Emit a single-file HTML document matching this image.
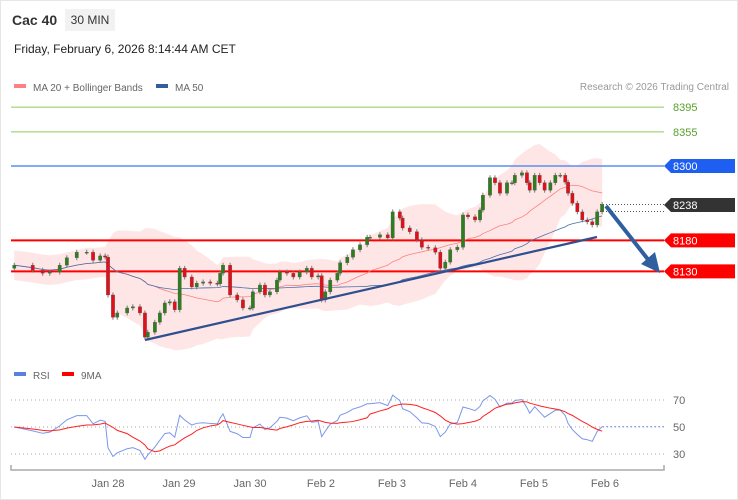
<!DOCTYPE html>
<html><head><meta charset="utf-8">
<style>
body{margin:0;background:#fff;font-family:"Liberation Sans",sans-serif;}
#card{position:relative;width:736px;height:498px;border:1px solid #e6e6e6;overflow:hidden;}
.t{position:absolute;white-space:nowrap;}
</style></head><body>
<div id="card">
<div class="t" style="left:11px;top:11px;font-size:14px;font-weight:bold;color:#333">Cac 40</div>
<div class="t" style="left:64px;top:8px;width:50px;height:22px;line-height:22px;background:#f2f2f2;font-size:12px;color:#333;text-align:center">30 MIN</div>
<div class="t" style="left:13px;top:41px;font-size:12px;color:#222">Friday, February 6, 2026 8:14:44 AM CET</div>
<svg id="svg" width="738" height="500" style="position:absolute;left:-1px;top:-1px"></svg>
</div>
<script>
const times=[-1.32,-1.06,-0.92,-0.82,-0.68,-0.58,-0.44,-0.30,-0.21,-0.11,-0.04,
0,0.07,0.13,0.27,0.35,0.45,0.52,0.56,0.66,0.73,0.80,0.87,0.94,
1.01,1.08,1.18,1.25,1.34,1.44,1.54,1.58,1.62,1.72,1.82,1.90,2.00,2.04,2.14,2.21,2.28,2.38,2.42,2.52,2.61,2.70,2.80,2.87,2.96,3.01,3.06,3.13,3.23,3.27,3.37,3.45,3.55,3.65,
3.69,3.83,3.94,4.01,4.11,4.15,4.25,4.35,4.42,4.51,4.61,4.68,4.75,4.82,4.92,5.00,5.07,5.17,5.24,5.28,5.38,5.45,5.52,5.62,5.69,5.73,5.83,5.90,5.94,6.01,6.08,6.15,6.23,6.30,6.37,6.44,6.48,6.54,6.61,6.68,6.75,6.82,6.89,6.96];
const closes=[8140,8132,8127,8129,8140,8152,8161,8161,8148,8155,8153,
8092,8056,8063,8071,8073,8063,8024,8032,8048,8063,8079,8081,8068,
8135,8121,8105,8111,8113,8111,8110,8127,8140,8092,8084,8071,8071,8097,8108,8092,8097,8116,8129,8127,8121,8129,8135,8121,8123,8084,8097,8116,8127,8144,8153,8165,8173,8185,
8185,8189,8184,8226,8216,8200,8194,8181,8169,8168,8161,8135,8145,8165,8169,8221,8218,8213,8229,8253,8281,8273,8256,8273,8273,8285,8289,8273,8261,8285,8273,8261,8273,8285,8285,8274,8256,8240,8226,8213,8210,8205,8226,8238];
const firstOpen=8135;
const dayLabels=["Jan 28","Jan 29","Jan 30","Feb 2","Feb 3","Feb 4","Feb 5","Feb 6"];
const dayIdx=[0,1,2,3,4,5,6,7];
const levels=[8395,8355,8300,8238,8180,8130];
const rsiTicks=[70,50,30];
const NS="http://www.w3.org/2000/svg",svg=document.getElementById('svg');
function el(t,a,txt){const e=document.createElementNS(NS,t);for(const k in a)e.setAttribute(k,a[k]);if(txt!==undefined)e.textContent=txt;svg.appendChild(e);return e;}
const y=p=>166-(p-8300)*0.62;
const N=closes.length;
const tx=t=>108+t*71;
const x=i=>tx(times[i]);
const ry=v=>427-(v-50)*1.35;
function sma(arr,n){return arr.map((_,i)=>{const s=arr.slice(Math.max(0,i-n+1),i+1);return s.reduce((a,b)=>a+b,0)/s.length;});}
const ma20=sma(closes,20),ma50=sma(closes,50);
const sd=closes.map((_,i)=>{const s=closes.slice(Math.max(0,i-19),i+1);const m=ma20[i];return Math.sqrt(s.reduce((a,b)=>a+(b-m)*(b-m),0)/s.length);});
const bandW=sd.map(v=>Math.max(2*v,24));
let d='M'+closes.map((_,i)=>x(i)+','+y(ma20[i]+bandW[i])).join('L')+'L'+closes.map((_,i)=>x(N-1-i)+','+y(ma20[N-1-i]-bandW[N-1-i])).join('L')+'Z';
let bb=el('path',{d,fill:'#ffdede','fill-opacity':0.75,stroke:'none'});


const lvlStyle={8395:['#8fcb5c',1],8355:['#8fcb5c',1],8300:['#5b8ef0',1.5],8180:['#ff0000',2],8130:['#ff0000',2]};
for(const L of levels){
 if(L===8238){for(const yy of [y(L),y(L)+7]){let l=el('line',{x1:600,x2:664,y1:yy,y2:yy,stroke:'#555','stroke-dasharray':'1,2'});}continue;}
 const s=lvlStyle[L];
 let l=el('line',{x1:11,x2:664,y1:y(L),y2:y(L),stroke:s[0],'stroke-width':s[1]});
 
 
}
let m2=el('path',{d:'M'+ma20.map((v,i)=>x(i)+','+y(v)).join('L'),fill:'none',stroke:'#ff8080','stroke-width':0.8});


let m5=el('path',{d:'M'+ma50.map((v,i)=>x(i)+','+y(v)).join('L'),fill:'none',stroke:'#4a6fa8','stroke-width':0.8});


for(let i=0;i<N;i++){
 const o=i?closes[i-1]:firstOpen,c=closes[i];
 const hi=Math.max(o,c)+4,lo=Math.min(o,c)-4;
 let w=el('line',{x1:x(i),x2:x(i),y1:y(hi),y2:y(lo),stroke:'#777','stroke-width':1});
 
 
 const top=y(Math.max(o,c)),h=Math.max(1,Math.abs(y(o)-y(c)));
 let r=el('rect',{x:x(i)-1.7,y:top,width:3.4,height:h,fill:c>=o?'#2e7d1f':'#e0101a',stroke:'#555','stroke-width':0.3});
 
 
}
let tl=el('line',{x1:145,y1:340,x2:597,y2:237,stroke:'#2f4f8f','stroke-width':2.2});


let ar=el('line',{x1:606,y1:206,x2:650,y2:262,stroke:'#2f5f9f','stroke-width':4});


let ah=el('polygon',{points:'660,273 641,264 655,252',fill:'#2f5f9f'});


const tagCol={8395:null,8355:null,8300:'#1e5ef0',8238:'#333333',8180:'#ff0000',8130:'#ff0000'};
for(const L of levels){
 const yy=y(L)+(L===8238?0.5:0);
 if(!tagCol[L]){let t=el('text',{x:673,y:yy+4,'font-size':11,fill:'#5aa02c'},String(L));continue;}
 let p=el('polygon',{points:`664,${yy} 671,${yy-7} 735,${yy-7} 735,${yy+7} 671,${yy+7}`,fill:tagCol[L]});
 
 
 let t=el('text',{x:673,y:yy+4,'font-size':11,fill:'#fff'},String(L));
 
 
}
function leg(xx,yy,col,txt,name){let r=el('rect',{x:xx,y:yy-3,width:12,height:4,fill:col});let t=el('text',{x:xx+19,y:yy+4,'font-size':10,fill:'#666'},txt);}
leg(14,87,'#ff8080','MA 20 + Bollinger Bands','legend-ma20');
leg(156,87,'#2f5f9f','MA 50','legend-ma50');
leg(14,375,'#5b7fe0','RSI','legend-rsi');
leg(62,375,'#ff0000','9MA','legend-rsi-ma');
let cr=el('text',{x:729,y:90,'font-size':10,fill:'#999','text-anchor':'end'},'Research © 2026 Trading Central');


const rsi=[];let ag=0,al=0;const P=14;
for(let i=0;i<N;i++){const ch=closes[i]-(i?closes[i-1]:firstOpen);const g=Math.max(ch,0),l=Math.max(-ch,0);
 if(i===0){ag=g||5;al=l||5;}else{ag=(ag*(P-1)+g)/P;al=(al*(P-1)+l)/P;}
 rsi.push(100-100/(1+ag/(al||0.001)));}
const rsiMa=sma(rsi,9);
for(const v of rsiTicks){
 let l=el('line',{x1:11,x2:664,y1:ry(v),y2:ry(v),stroke:'#aaa','stroke-dasharray':'1,3'});
 
 
 let t=el('text',{x:673,y:ry(v)+4,'font-size':11,fill:'#666'},String(v));
 
 
}
let rl=el('path',{d:'M'+rsi.map((v,i)=>x(i)+','+ry(v)).join('L'),fill:'none',stroke:'#7a96ea','stroke-width':1});


let rd=el('line',{x1:x(N-1),x2:664,y1:ry(rsi[N-1]),y2:ry(rsi[N-1]),stroke:'#7a96ea','stroke-dasharray':'2,2'});


let rm=el('path',{d:'M'+rsiMa.map((v,i)=>x(i)+','+ry(v)).join('L'),fill:'none',stroke:'#ff2020','stroke-width':1});


let ax=el('path',{d:'M11,465V470H664V465',fill:'none',stroke:'#aaa','stroke-width':1.5});


dayLabels.forEach((s,i)=>{let t=el('text',{x:tx(dayIdx[i]),y:487,'font-size':11,fill:'#666','text-anchor':'middle'},s);});
</script>
</body></html>
